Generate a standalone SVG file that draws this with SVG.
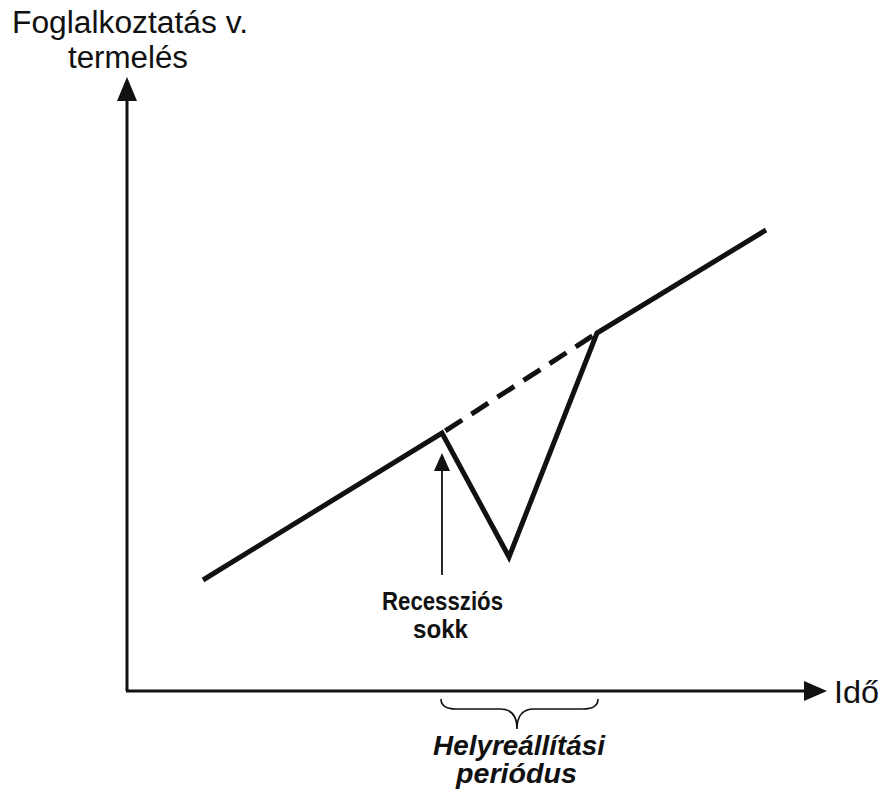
<svg xmlns="http://www.w3.org/2000/svg" width="885" height="796" viewBox="0 0 885 796">
<style>
.lbl{font-family:"Liberation Sans",Arial,sans-serif;fill:#111}
.ax{stroke:#111;stroke-width:3;fill:none}
.dl{stroke:#111;stroke-width:5;fill:none;stroke-linejoin:miter}
</style>
<rect width="885" height="796" fill="#fff"/>
<g id="axes">
<line class="ax" x1="127" y1="691" x2="127" y2="98"/>
<polygon points="127,77 117,101 137,101" fill="#111"/>
<line class="ax" x1="126" y1="691" x2="808" y2="691"/>
<polygon points="827,691 804,681 804,701" fill="#111"/>
</g>
<g id="labels">
<text class="lbl" x="12" y="33" font-size="31" textLength="236" lengthAdjust="spacingAndGlyphs">Foglalkoztatás v.</text>
<text class="lbl" x="68" y="68" font-size="31" textLength="120" lengthAdjust="spacingAndGlyphs">termelés</text>
<text class="lbl" x="834" y="703" font-size="31" textLength="45" lengthAdjust="spacingAndGlyphs">Idő</text>
</g>
<g id="curve">
<polyline class="dl" points="203,580 442,433 509,557 597,333 766,230"/>
<line class="dl" x1="442" y1="433" x2="597" y2="333" stroke-width="4.5" stroke-dasharray="20,11" stroke-dashoffset="-4"/>
</g>
<g id="shock">
<line x1="442" y1="575" x2="442" y2="468" stroke="#111" stroke-width="1.8"/>
<polygon points="442,453 434,471 450,471" fill="#111"/>
<text class="lbl" x="382" y="610" font-size="25" font-weight="bold" textLength="121" lengthAdjust="spacingAndGlyphs">Recessziós</text>
<text class="lbl" x="413" y="638" font-size="25" font-weight="bold" textLength="55" lengthAdjust="spacingAndGlyphs">sokk</text>
</g>
<g id="brace">
<path d="M441,699 Q441,709 456,709 L500,709 Q517,709 517,729 Q517,709 534,709 L583,709 Q598,709 598,699" fill="none" stroke="#111" stroke-width="1.6"/>
<text class="lbl" x="433" y="755" font-size="28" font-weight="bold" font-style="italic" textLength="172" lengthAdjust="spacingAndGlyphs">Helyreállítási</text>
<text class="lbl" x="456" y="783" font-size="28" font-weight="bold" font-style="italic" textLength="121" lengthAdjust="spacingAndGlyphs">periódus</text>
</g>
</svg>
